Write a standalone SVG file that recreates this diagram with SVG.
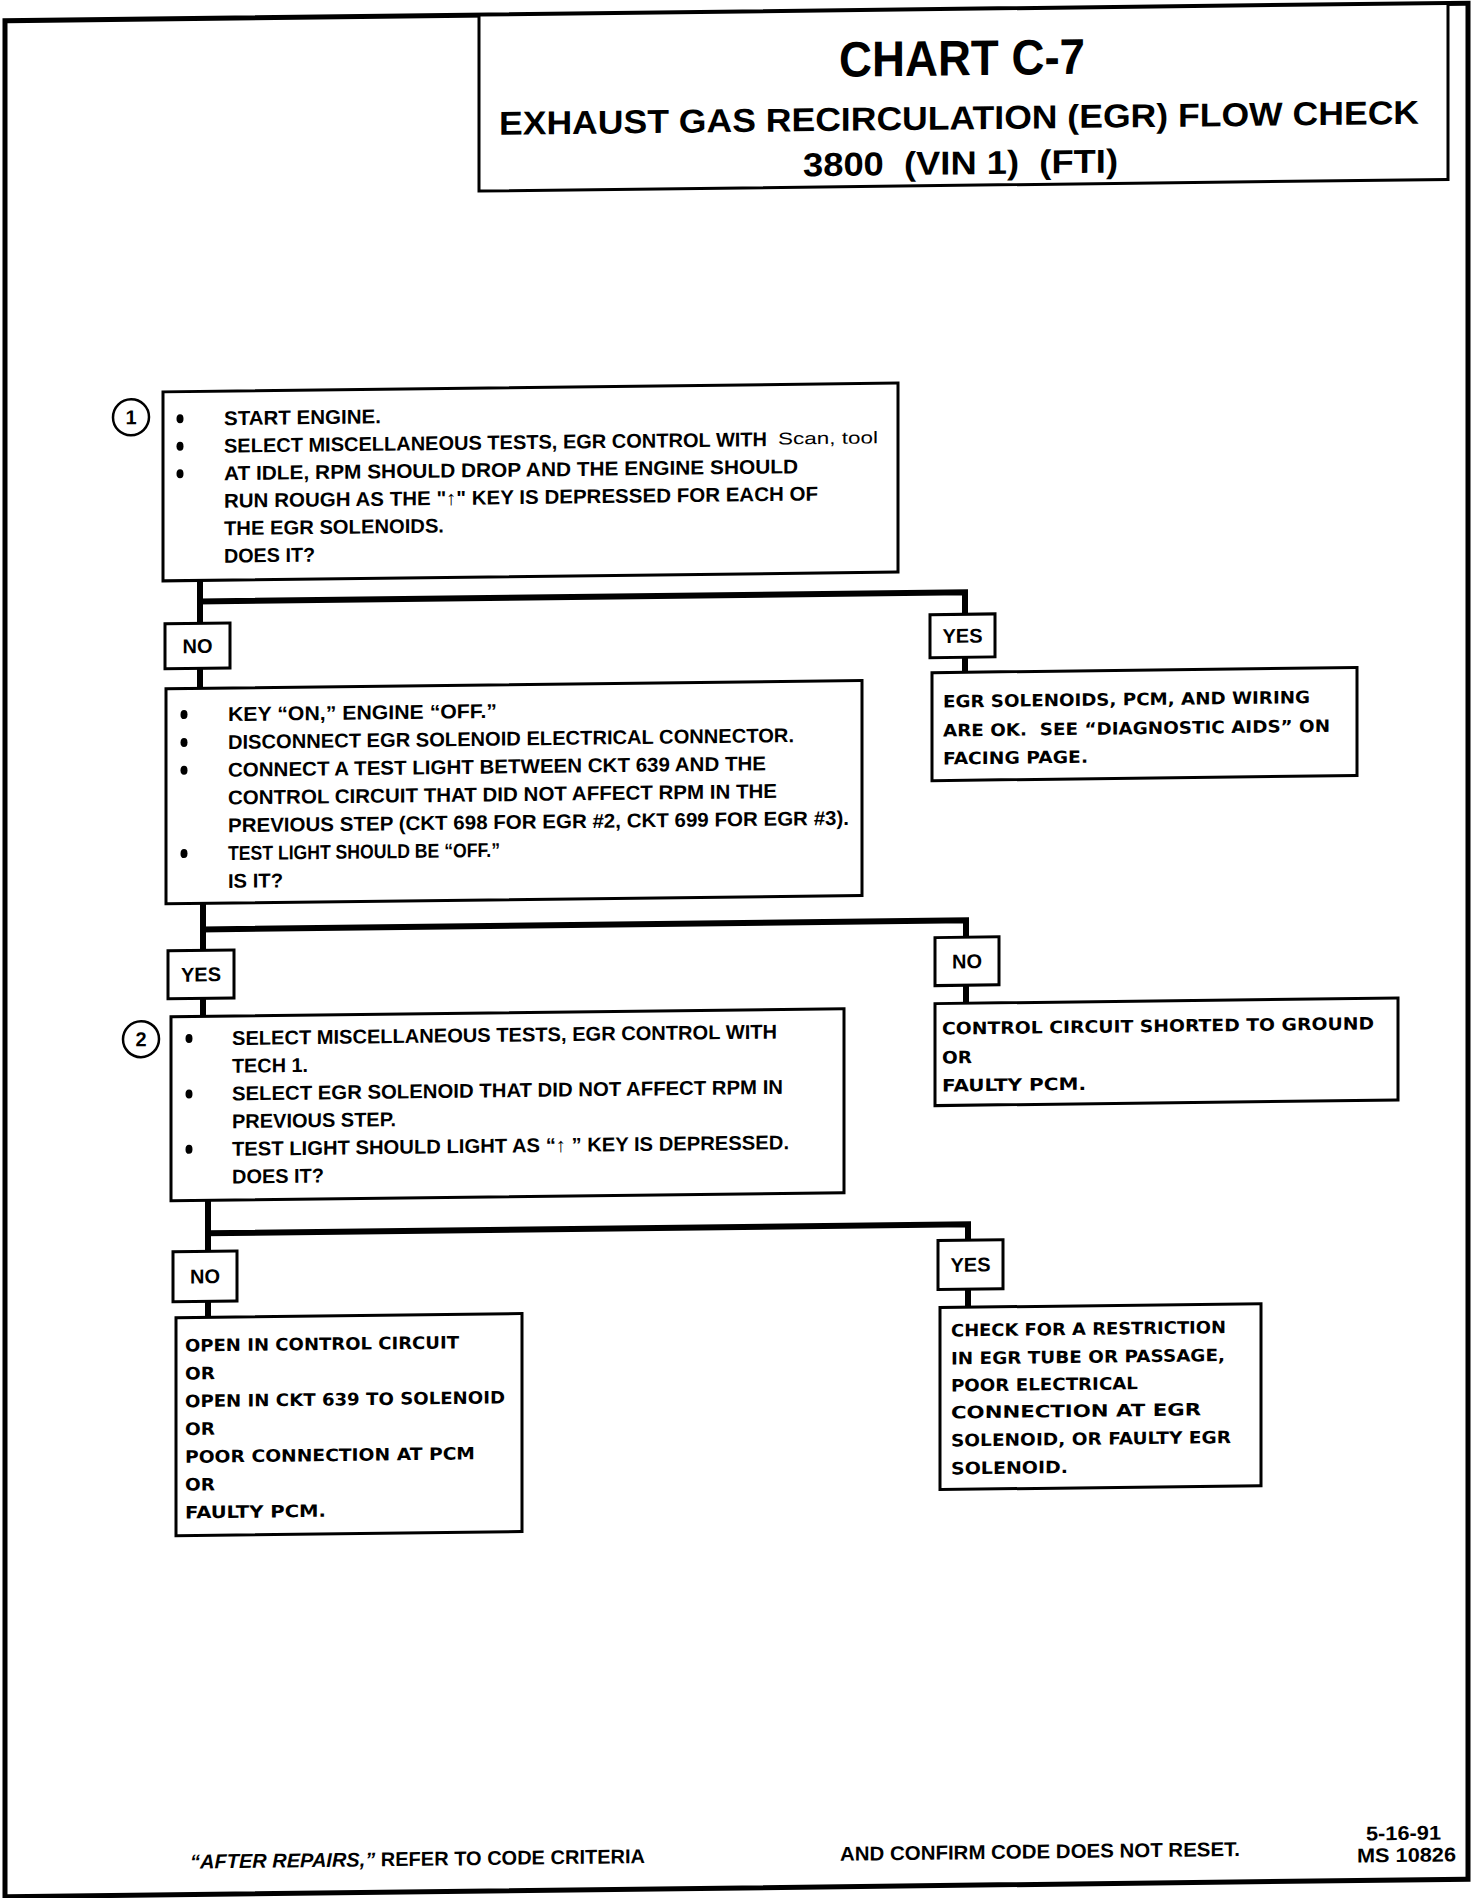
<svg xmlns="http://www.w3.org/2000/svg" width="1472" height="1898" viewBox="0 0 1472 1898">
<style>
.pg{fill:none;stroke:#000;stroke-width:5}
.bx{fill:#fff;stroke:#000;stroke-width:3}
.lb{fill:#fff;stroke:#000;stroke-width:3}
.cn{fill:none;stroke:#000;stroke-width:6;stroke-linecap:square}
.t{font-family:"Liberation Sans",Arial,sans-serif;font-weight:bold;font-size:20px;fill:#000}
.r{font-family:"DejaVu Sans","Liberation Sans",sans-serif;font-weight:bold;font-size:17px;fill:#000}
.s{font-family:"Liberation Sans",Arial,sans-serif;font-weight:normal;font-size:17px;fill:#000}
.h{font-family:"Liberation Sans",Arial,sans-serif;font-weight:bold;fill:#000}
.c{fill:#fff;stroke:#000;stroke-width:2.5}
.m{text-anchor:middle}
</style>
<rect width="1472" height="1898" fill="#fff"/>
<g transform="matrix(1 -0.012 0 1 0 8.83)">
<g id="page">
<rect class="pg" x="5" y="12" width="1463" height="1876"/>
</g>
<g id="title">
<rect class="bx" x="479" y="12" width="969" height="176"/>
<text class="h" x="839" y="78" font-size="50" textLength="246" lengthAdjust="spacingAndGlyphs">CHART C-7</text>
<text class="h" x="499" y="132" font-size="33" textLength="920" lengthAdjust="spacingAndGlyphs">EXHAUST GAS RECIRCULATION (EGR) FLOW CHECK</text>
<text class="h" x="803" y="177" font-size="33" textLength="315" lengthAdjust="spacingAndGlyphs" xml:space="preserve">3800  (VIN 1)  (FTI)</text>
</g>
<g id="connectors">
<polyline class="cn" points="200,574 200,595 965,595 965,617"/>
<line class="cn" x1="200" y1="595" x2="200" y2="617"/>
<line class="cn" x1="200" y1="662" x2="200" y2="682"/>
<line class="cn" x1="965" y1="660" x2="965" y2="675"/>
<polyline class="cn" points="203,897 203,923 966,923 966,940"/>
<line class="cn" x1="203" y1="923" x2="203" y2="944"/>
<line class="cn" x1="203" y1="992" x2="203" y2="1010"/>
<line class="cn" x1="966" y1="988" x2="966" y2="1006"/>
<polyline class="cn" points="208,1194 208,1227 968,1227 968,1243"/>
<line class="cn" x1="208" y1="1227" x2="208" y2="1245"/>
<line class="cn" x1="208" y1="1295" x2="208" y2="1311"/>
<line class="cn" x1="968" y1="1292" x2="968" y2="1310"/>
</g>
<g id="step1">
<circle class="c" cx="131" cy="410" r="18"/>
<text class="t m" x="131" y="417">1</text>
<rect class="bx" x="163" y="385" width="735" height="189"/>
<ellipse cx="180" cy="412" rx="3.5" ry="4.5"/>
<ellipse cx="180" cy="439.5" rx="3.5" ry="4.5"/>
<ellipse cx="180" cy="467" rx="3.5" ry="4.5"/>
<text class="t" x="224" y="419" textLength="157" lengthAdjust="spacingAndGlyphs">START ENGINE.</text>
<text class="t" x="224" y="446.5" textLength="543" lengthAdjust="spacingAndGlyphs">SELECT MISCELLANEOUS TESTS, EGR CONTROL WITH</text>
<text class="s" x="778" y="445" textLength="100" lengthAdjust="spacingAndGlyphs">Scan, tool</text>
<text class="t" x="224" y="474" textLength="574" lengthAdjust="spacingAndGlyphs">AT IDLE, RPM SHOULD DROP AND THE ENGINE SHOULD</text>
<text class="t" x="224" y="501.5" textLength="594" lengthAdjust="spacingAndGlyphs">RUN ROUGH AS THE "↑" KEY IS DEPRESSED FOR EACH OF</text>
<text class="t" x="224" y="529" textLength="220" lengthAdjust="spacingAndGlyphs">THE EGR SOLENOIDS.</text>
<text class="t" x="224" y="556.5" textLength="91" lengthAdjust="spacingAndGlyphs">DOES IT?</text>
</g>
<g id="no1">
<rect class="lb" x="165" y="617" width="65" height="45"/>
<text class="t m" x="197.5" y="646.5">NO</text>
</g>
<g id="yes1">
<rect class="lb" x="930" y="617" width="65" height="43"/>
<text class="t m" x="962.5" y="645.5">YES</text>
</g>
<g id="result-ok">
<rect class="bx" x="932" y="675" width="425" height="108"/>
<text class="r" x="943" y="710" textLength="367" lengthAdjust="spacingAndGlyphs">EGR SOLENOIDS, PCM, AND WIRING</text>
<text class="r" x="943" y="739" textLength="387" lengthAdjust="spacingAndGlyphs" xml:space="preserve">ARE OK.  SEE “DIAGNOSTIC AIDS” ON</text>
<text class="r" x="943" y="767" textLength="145" lengthAdjust="spacingAndGlyphs">FACING PAGE.</text>
</g>
<g id="step-key">
<rect class="bx" x="166" y="682" width="696" height="215"/>
<ellipse cx="184" cy="708" rx="3.5" ry="4.5"/>
<ellipse cx="184" cy="735.8" rx="3.5" ry="4.5"/>
<ellipse cx="184" cy="763.6" rx="3.5" ry="4.5"/>
<ellipse cx="184" cy="847" rx="3.5" ry="4.5"/>
<text class="t" x="228" y="715" textLength="269" lengthAdjust="spacingAndGlyphs">KEY “ON,” ENGINE “OFF.”</text>
<text class="t" x="228" y="742.8" textLength="566" lengthAdjust="spacingAndGlyphs">DISCONNECT EGR SOLENOID ELECTRICAL CONNECTOR.</text>
<text class="t" x="228" y="770.6" textLength="538" lengthAdjust="spacingAndGlyphs">CONNECT A TEST LIGHT BETWEEN CKT 639 AND THE</text>
<text class="t" x="228" y="798.4" textLength="549" lengthAdjust="spacingAndGlyphs">CONTROL CIRCUIT THAT DID NOT AFFECT RPM IN THE</text>
<text class="t" x="228" y="826.2" textLength="621" lengthAdjust="spacingAndGlyphs">PREVIOUS STEP (CKT 698 FOR EGR #2, CKT 699 FOR EGR #3).</text>
<text class="t" x="228" y="854" textLength="272" lengthAdjust="spacingAndGlyphs">TEST LIGHT SHOULD BE “OFF.”</text>
<text class="t" x="228" y="881.8" textLength="55" lengthAdjust="spacingAndGlyphs">IS IT?</text>
</g>
<g id="yes2">
<rect class="lb" x="168" y="944" width="66" height="48"/>
<text class="t m" x="201" y="975">YES</text>
</g>
<g id="no2">
<rect class="lb" x="935" y="940" width="64" height="48"/>
<text class="t m" x="967" y="971">NO</text>
</g>
<g id="result-short">
<rect class="bx" x="935" y="1006" width="463" height="102"/>
<text class="r" x="942" y="1037" textLength="432" lengthAdjust="spacingAndGlyphs">CONTROL CIRCUIT SHORTED TO GROUND</text>
<text class="r" x="942" y="1066" textLength="30" lengthAdjust="spacingAndGlyphs">OR</text>
<text class="r" x="942" y="1094" textLength="144" lengthAdjust="spacingAndGlyphs">FAULTY PCM.</text>
</g>
<g id="step2">
<circle class="c" cx="141" cy="1032" r="18"/>
<text class="t m" x="141" y="1039">2</text>
<rect class="bx" x="171" y="1010" width="673" height="184"/>
<ellipse cx="189" cy="1032" rx="3.5" ry="4.5"/>
<ellipse cx="189" cy="1087.4" rx="3.5" ry="4.5"/>
<ellipse cx="189" cy="1142.8" rx="3.5" ry="4.5"/>
<text class="t" x="232" y="1039" textLength="545" lengthAdjust="spacingAndGlyphs">SELECT MISCELLANEOUS TESTS, EGR CONTROL WITH</text>
<text class="t" x="232" y="1066.7" textLength="76" lengthAdjust="spacingAndGlyphs">TECH 1.</text>
<text class="t" x="232" y="1094.4" textLength="551" lengthAdjust="spacingAndGlyphs">SELECT EGR SOLENOID THAT DID NOT AFFECT RPM IN</text>
<text class="t" x="232" y="1122.1" textLength="164" lengthAdjust="spacingAndGlyphs">PREVIOUS STEP.</text>
<text class="t" x="232" y="1149.8" textLength="557" lengthAdjust="spacingAndGlyphs">TEST LIGHT SHOULD LIGHT AS “↑ ” KEY IS DEPRESSED.</text>
<text class="t" x="232" y="1177.5" textLength="92" lengthAdjust="spacingAndGlyphs">DOES IT?</text>
</g>
<g id="no3">
<rect class="lb" x="173" y="1245" width="64" height="50"/>
<text class="t m" x="205" y="1277">NO</text>
</g>
<g id="yes3">
<rect class="lb" x="938" y="1243" width="65" height="49"/>
<text class="t m" x="970.5" y="1274.5">YES</text>
</g>
<g id="result-open">
<rect class="bx" x="176" y="1311" width="346" height="218"/>
<text class="r" x="185" y="1345" textLength="274" lengthAdjust="spacingAndGlyphs">OPEN IN CONTROL CIRCUIT</text>
<text class="r" x="185" y="1372.8" textLength="30" lengthAdjust="spacingAndGlyphs">OR</text>
<text class="r" x="185" y="1400.6" textLength="320" lengthAdjust="spacingAndGlyphs">OPEN IN CKT 639 TO SOLENOID</text>
<text class="r" x="185" y="1428.4" textLength="30" lengthAdjust="spacingAndGlyphs">OR</text>
<text class="r" x="185" y="1456.2" textLength="290" lengthAdjust="spacingAndGlyphs">POOR CONNECTION AT PCM</text>
<text class="r" x="185" y="1484" textLength="30" lengthAdjust="spacingAndGlyphs">OR</text>
<text class="r" x="185" y="1511.8" textLength="141" lengthAdjust="spacingAndGlyphs">FAULTY PCM.</text>
</g>
<g id="result-restriction">
<rect class="bx" x="940" y="1310" width="321" height="182"/>
<text class="r" x="951" y="1339" textLength="275" lengthAdjust="spacingAndGlyphs">CHECK FOR A RESTRICTION</text>
<text class="r" x="951" y="1367" textLength="274" lengthAdjust="spacingAndGlyphs">IN EGR TUBE OR PASSAGE,</text>
<text class="r" x="951" y="1394" textLength="187" lengthAdjust="spacingAndGlyphs">POOR ELECTRICAL</text>
<text class="r" x="951" y="1421" textLength="250" lengthAdjust="spacingAndGlyphs">CONNECTION AT EGR</text>
<text class="r" x="951" y="1449" textLength="280" lengthAdjust="spacingAndGlyphs">SOLENOID, OR FAULTY EGR</text>
<text class="r" x="951" y="1477" textLength="117" lengthAdjust="spacingAndGlyphs">SOLENOID.</text>
</g>
<g id="footer">
<text class="t" x="190" y="1862" textLength="455" lengthAdjust="spacingAndGlyphs"><tspan font-style="italic">“AFTER REPAIRS,”</tspan> REFER TO CODE CRITERIA</text>
<text class="t" x="840" y="1862" textLength="400" lengthAdjust="spacingAndGlyphs">AND CONFIRM CODE DOES NOT RESET.</text>
<text class="t" x="1366" y="1848" textLength="75" lengthAdjust="spacingAndGlyphs">5-16-91</text>
<text class="t" x="1357" y="1870" textLength="99" lengthAdjust="spacingAndGlyphs">MS 10826</text>
</g>
</g>
</svg>
